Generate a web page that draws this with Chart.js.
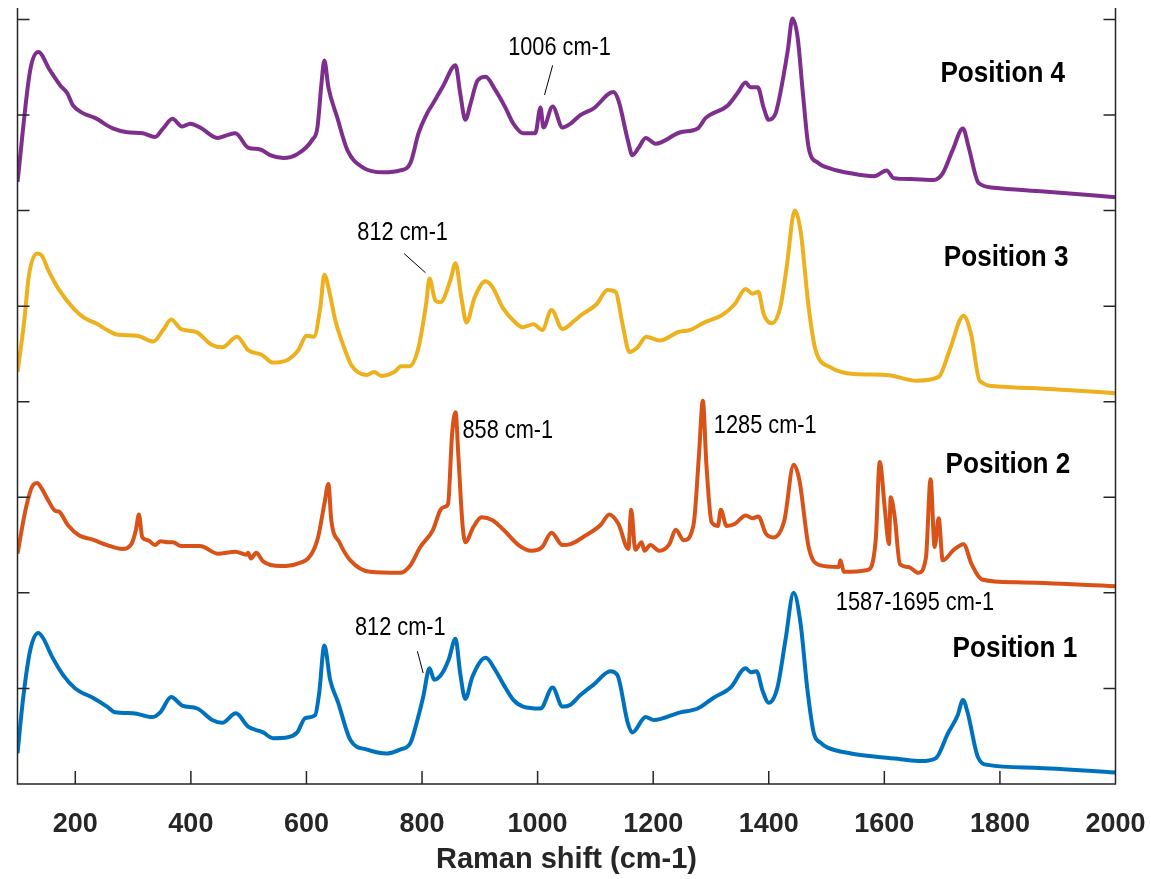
<!DOCTYPE html>
<html>
<head>
<meta charset="utf-8">
<script src="https://cdn.jsdelivr.net/npm/chart.js@4/dist/chart.umd.min.js"></script>
<style>
  html, body { margin: 0; padding: 0; background: #fff; }
</style>
</head>
<body>
<canvas id="ramanChart" width="1151" height="879"></canvas>
<script>
// spectra (x in cm-1, y in stacked arbitrary units)
const p4X = [100,122,136,156,174,186,196,213,234,265,290,317,338,352,368,385,399,416,446,463,477,499,520,537,560,584,610,619,626,631,638,653,671,698,733,762,780,794,809,819,837,858,866,875,884,896,910,927,944,958,975,996,1005,1010,1026,1043,1057,1074,1097,1131,1140,1156,1164,1175,1187,1204,1247,1277,1291,1329,1346,1360,1368,1381,1391,1400,1412,1420,1433,1441,1450,1459,1469,1485,1507,1542,1582,1604,1616,1646,1685,1701,1718,1736,1746,1763,1789,1876,2000];
const p4Y = [6.30,7.47,7.66,7.47,7.31,7.23,7.10,7.02,6.97,6.86,6.82,6.81,6.77,6.86,6.96,6.88,6.91,6.87,6.76,6.79,6.81,6.66,6.64,6.58,6.55,6.59,6.74,6.87,7.33,7.57,7.29,6.98,6.63,6.45,6.40,6.42,6.50,6.81,7.02,7.12,7.31,7.52,7.23,6.95,7.12,7.36,7.40,7.26,7.08,6.91,6.81,6.81,7.08,6.87,7.09,6.87,6.91,7.00,7.07,7.24,7.15,6.74,6.58,6.66,6.76,6.70,6.82,6.86,6.97,7.10,7.23,7.34,7.29,7.29,7.08,6.95,7.02,7.23,7.68,8.01,7.81,7.23,6.66,6.50,6.44,6.39,6.36,6.42,6.34,6.33,6.32,6.39,6.63,6.86,6.66,6.29,6.24,6.20,6.14];

const p3X = [100,111,120,134,142,153,172,198,215,239,255,274,307,335,352,366,383,409,435,454,480,499,523,542,568,586,600,613,624,631,639,650,665,678,704,717,730,752,764,778,794,807,813,823,832,849,858,868,877,891,910,922,939,958,974,993,1008,1024,1043,1064,1076,1102,1121,1135,1147,1159,1173,1188,1211,1244,1263,1289,1320,1341,1360,1372,1382,1391,1405,1420,1431,1445,1455,1469,1481,1507,1547,1604,1656,1694,1713,1737,1750,1765,1796,1893,2000];
const p3Y = [4.31,4.81,5.33,5.55,5.53,5.38,5.17,4.97,4.88,4.81,4.75,4.70,4.69,4.63,4.75,4.86,4.76,4.73,4.60,4.57,4.68,4.54,4.49,4.41,4.44,4.54,4.69,4.68,4.99,5.33,5.17,4.85,4.57,4.38,4.28,4.31,4.27,4.31,4.37,4.37,4.57,5.02,5.29,5.06,5.04,5.27,5.45,5.09,4.83,5.09,5.26,5.20,4.99,4.85,4.78,4.81,4.75,4.96,4.76,4.85,4.91,5.02,5.17,5.15,4.81,4.52,4.57,4.68,4.64,4.73,4.75,4.83,4.91,5.02,5.18,5.13,5.15,4.92,4.82,4.99,5.41,6.00,5.79,4.99,4.54,4.36,4.29,4.28,4.22,4.26,4.54,4.90,4.71,4.22,4.16,4.13,4.09];

const p2X = [100,115,127,134,142,153,165,172,187,207,229,255,281,297,305,310,316,326,338,347,361,369,383,416,447,477,496,499,504,513,525,556,582,608,620,631,638,643,657,676,710,762,780,797,819,832,839,845,852,858,863,870,875,889,903,922,941,967,989,1008,1024,1043,1057,1083,1109,1124,1140,1157,1162,1169,1180,1185,1195,1211,1228,1239,1253,1270,1279,1286,1292,1301,1312,1317,1327,1341,1360,1372,1382,1395,1408,1427,1443,1453,1469,1488,1521,1524,1530,1571,1585,1592,1601,1608,1611,1618,1627,1642,1659,1672,1680,1687,1694,1701,1720,1737,1751,1769,1829,2000];
const p2Y = [2.41,2.90,3.13,3.15,3.09,2.97,2.86,2.85,2.71,2.60,2.56,2.50,2.46,2.51,2.66,2.82,2.58,2.55,2.50,2.54,2.53,2.53,2.49,2.49,2.41,2.43,2.40,2.42,2.36,2.42,2.33,2.28,2.30,2.40,2.58,2.93,3.14,2.76,2.53,2.34,2.22,2.21,2.29,2.48,2.66,2.87,2.90,2.93,3.66,3.89,3.42,2.72,2.53,2.69,2.79,2.76,2.66,2.50,2.44,2.48,2.63,2.50,2.51,2.60,2.71,2.82,2.72,2.46,2.87,2.45,2.53,2.44,2.50,2.44,2.51,2.66,2.55,2.72,3.42,4.01,3.35,2.74,2.70,2.87,2.70,2.72,2.81,2.78,2.80,2.62,2.58,2.76,3.34,3.18,2.48,2.29,2.27,2.34,2.22,2.24,2.55,3.37,2.87,2.51,3.00,2.79,2.30,2.27,2.21,2.37,3.19,2.48,2.78,2.34,2.45,2.51,2.30,2.14,2.11,2.07];

const p1X = [100,110,122,136,144,160,179,200,231,255,269,300,333,347,366,385,411,437,454,478,499,525,542,568,584,598,615,622,631,641,655,676,705,740,762,780,792,802,813,821,835,846,858,866,875,887,910,927,941,958,975,1005,1026,1043,1057,1074,1097,1126,1138,1156,1164,1187,1201,1247,1277,1304,1334,1360,1369,1379,1389,1400,1415,1429,1443,1455,1467,1478,1490,1502,1542,1594,1628,1663,1689,1710,1727,1736,1744,1762,1779,1859,2000];
const p1Y = [0.32,0.91,1.40,1.58,1.53,1.33,1.14,1.00,0.90,0.81,0.75,0.74,0.70,0.75,0.91,0.82,0.79,0.67,0.64,0.74,0.60,0.54,0.48,0.49,0.54,0.69,0.72,0.95,1.45,1.09,0.85,0.46,0.36,0.32,0.36,0.43,0.67,0.91,1.21,1.09,1.16,1.30,1.52,1.16,0.89,1.12,1.32,1.19,1.04,0.88,0.81,0.79,1.01,0.81,0.83,0.93,1.04,1.18,1.14,0.64,0.54,0.70,0.67,0.75,0.79,0.90,1.01,1.21,1.17,1.18,0.98,0.85,1.01,1.51,2.00,1.68,0.98,0.53,0.43,0.38,0.32,0.28,0.26,0.24,0.27,0.53,0.72,0.88,0.75,0.28,0.20,0.17,0.12];

const xTicks = [200,400,600,800,1000,1200,1400,1600,1800,2000];
const yTicks = [1,2,3,4,5,6,7,8];

// peak notes: text, left x (cm-1), y of text middle
const noteText = ['1006 cm-1','812 cm-1','858 cm-1','1285 cm-1','1587-1695 cm-1','812 cm-1'];
const noteX = [949,688,870,1305,1516,684];
const noteY = [7.72,5.79,3.71,3.77,1.92,1.65];
// leader lines [x1,y1,x2,y2]
const leaders = [[1026,7.52,1012,7.21],[769,5.55,806,5.35],[792,1.39,802,1.16]];

const posText = ['Position 4','Position 3','Position 2','Position 1'];
const posX = [1697,1703,1706,1718];
const posY = [7.46,5.53,3.37,1.44];

const pts = (xs, ys) => xs.map((x, i) => ({x: x, y: ys[i]}));

const FONT = '"Liberation Sans", Arial, sans-serif';

const frame = {
    id: 'frame',
    afterDatasetsDraw(chart) {
        const {ctx, chartArea: a, scales: {x, y}} = chart;
        ctx.save();
        ctx.strokeStyle = '#262626';
        ctx.lineWidth = 1.5;
        ctx.beginPath();
        ctx.moveTo(a.left, a.top);
        ctx.lineTo(a.left, a.bottom);
        ctx.lineTo(a.right, a.bottom);
        ctx.lineTo(a.right, a.top);
        yTicks.forEach(v => {
            const py = y.getPixelForValue(v);
            ctx.moveTo(a.left, py); ctx.lineTo(a.left + 12, py);
            ctx.moveTo(a.right, py); ctx.lineTo(a.right - 12, py);
        });
        xTicks.forEach(v => {
            const px = x.getPixelForValue(v);
            ctx.moveTo(px, a.bottom); ctx.lineTo(px, a.bottom - 13);
        });
        ctx.stroke();

        // leader lines
        ctx.strokeStyle = '#000';
        ctx.lineWidth = 1;
        ctx.beginPath();
        leaders.forEach(l => {
            ctx.moveTo(x.getPixelForValue(l[0]), y.getPixelForValue(l[1]));
            ctx.lineTo(x.getPixelForValue(l[2]), y.getPixelForValue(l[3]));
        });
        ctx.stroke();

        const squeeze = (txt, vx, vy, size, weight) => {
            ctx.save();
            ctx.translate(x.getPixelForValue(vx), y.getPixelForValue(vy));
            ctx.scale(0.87, 1);
            ctx.font = weight + ' ' + size + 'px ' + FONT;
            ctx.fillStyle = '#000';
            ctx.textAlign = 'left';
            ctx.textBaseline = 'alphabetic';
            ctx.fillText(txt, 0, size * 0.36);
            ctx.restore();
        };
        noteText.forEach((t, i) => squeeze(t, noteX[i], noteY[i], 25, 'normal'));
        posText.forEach((t, i) => squeeze(t, posX[i], posY[i], 30, 'bold'));
        ctx.restore();
    }
};

const line = (label, xs, ys, color) => ({
    label: label,
    data: pts(xs, ys),
    borderColor: color,
    borderWidth: 4,
    pointRadius: 0,
    cubicInterpolationMode: 'monotone',
    fill: false
});

new Chart(document.getElementById('ramanChart'), {
    type: 'line',
    data: {
        datasets: [
            line('Position 4', p4X, p4Y, '#7E2F8E'),
            line('Position 3', p3X, p3Y, '#EDB120'),
            line('Position 2', p2X, p2Y, '#D95319'),
            line('Position 1', p1X, p1Y, '#0072BD')
        ]
    },
    options: {
        responsive: false,
        animation: false,
        layout: {padding: {left: 17.5, right: 35.5, top: 8, bottom: 0}},
        plugins: {legend: {display: false}, tooltip: {enabled: false}},
        scales: {
            x: {
                type: 'linear',
                min: 100,
                max: 2000,
                grid: {display: false},
                border: {display: false},
                ticks: {
                    autoSkip: false,
                    maxRotation: 0,
                    padding: 16,
                    color: '#262626',
                    font: {family: FONT, size: 27, weight: 'bold'},
                    callback: v => String(v)
                },
                afterBuildTicks: s => { s.ticks = xTicks.map(v => ({value: v})); },
                afterFit: s => { s.height = 95; s.paddingLeft = 0; s.paddingRight = 0; },
                title: {
                    display: true,
                    text: 'Raman shift (cm-1)',
                    color: '#262626',
                    font: {family: FONT, size: 29, weight: 'bold'},
                    padding: {top: 10, bottom: 2}
                }
            },
            y: {
                display: false,
                min: 0,
                max: 8.12
            }
        }
    },
    plugins: [frame]
});
</script>
</body>
</html>
